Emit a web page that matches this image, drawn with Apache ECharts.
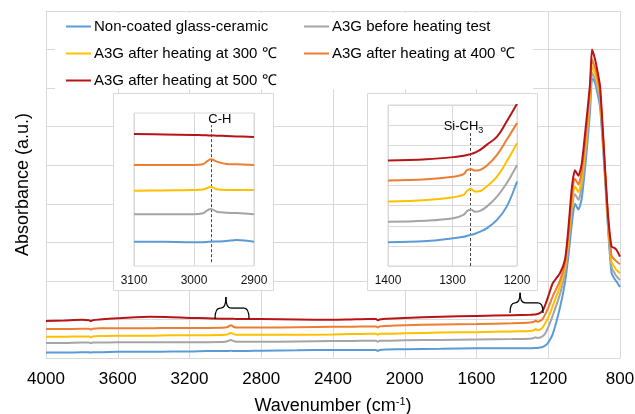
<!DOCTYPE html>
<html><head><meta charset="utf-8">
<script src="https://cdn.jsdelivr.net/npm/echarts@6/dist/echarts.min.js"></script>
<style>html,body{margin:0;padding:0;background:#fff}#c{width:635px;height:414px}</style>
</head><body><div id="c"></div>
<script>
// ---------- DATA ----------
const seriesNames = ['Non-coated glass-ceramic','A3G before heating test','A3G after heating at 300 ℃','A3G after heating at 400 ℃','A3G after heating at 500 ℃'];
const xTicks = [4000,3600,3200,2800,2400,2000,1600,1200,800];

// main spectrum (wavenumber, cm-1)
const wn = [4000,3900,3800,3760,3750,3740,3700,3600,3500,3420,3300,3200,3100,3000,2985,2970,2955,2940,2900,2800,2600,2400,2300,2200,2160,2150,2140,2100,2000,1800,1600,1400,1300,1280,1270,1260,1245,1230,1215,1200,1175,1135,1107,1090,1068,1051,1032,1013,987,967,956,945,934,911,884,866,847,830,819,800];
const nonCoated = [0.14,0.14,0.15,0.15,0.14,0.15,0.15,0.16,0.16,0.16,0.17,0.17,0.18,0.18,0.18,0.19,0.18,0.18,0.18,0.19,0.2,0.21,0.21,0.21,0.21,0.18,0.21,0.22,0.23,0.24,0.25,0.25,0.25,0.26,0.26,0.26,0.27,0.29,0.33,0.4,0.62,1.3,1.95,2.55,3.5,4.0,3.85,4.15,5.3,6.4,7.25,7.2,7.05,6.5,4.7,3.3,2.2,2.05,1.98,1.84];
const beforeHeat = [0.39,0.39,0.4,0.4,0.38,0.4,0.4,0.41,0.41,0.41,0.41,0.41,0.41,0.42,0.44,0.47,0.44,0.42,0.42,0.42,0.43,0.44,0.44,0.45,0.45,0.42,0.45,0.45,0.46,0.47,0.48,0.49,0.5,0.52,0.54,0.52,0.53,0.57,0.65,0.8,1.1,1.65,2.2,2.8,3.85,4.25,4.1,4.45,5.55,6.65,7.4,7.3,7.15,6.65,4.8,3.4,2.35,2.2,2.12,2.02];
const heat300 = [0.55,0.55,0.56,0.56,0.54,0.56,0.57,0.58,0.58,0.58,0.59,0.59,0.59,0.6,0.62,0.65,0.62,0.6,0.6,0.6,0.6,0.61,0.62,0.63,0.63,0.6,0.63,0.63,0.64,0.66,0.67,0.69,0.7,0.72,0.75,0.72,0.74,0.8,0.92,1.05,1.35,1.85,2.35,2.95,4.0,4.45,4.3,4.65,5.75,6.85,7.55,7.45,7.3,6.8,4.85,3.5,2.5,2.35,2.28,2.2];
const heat400 = [0.75,0.75,0.76,0.76,0.74,0.76,0.77,0.77,0.77,0.77,0.78,0.78,0.78,0.79,0.81,0.85,0.81,0.79,0.79,0.79,0.8,0.81,0.81,0.82,0.82,0.79,0.82,0.83,0.85,0.87,0.88,0.9,0.92,0.94,0.97,0.94,0.96,1.02,1.15,1.3,1.6,2.0,2.45,3.1,4.2,4.65,4.5,4.85,5.95,7.0,7.75,7.6,7.45,6.9,4.9,3.58,2.65,2.55,2.5,2.43];
const heat500 = [0.96,0.97,0.99,0.98,0.96,0.98,1.0,1.03,1.06,1.07,1.06,1.04,1.03,1.02,1.02,1.02,1.02,1.01,1.01,1.01,1.0,0.99,1.0,1.01,1.01,0.98,1.0,1.02,1.04,1.07,1.09,1.11,1.12,1.13,1.13,1.14,1.17,1.24,1.4,1.6,1.94,2.2,2.54,3.24,4.43,4.87,4.73,5.05,6.17,7.12,8.0,7.85,7.64,7.04,4.96,3.66,2.89,2.85,2.8,2.63];

// inset 1: C-H region
const chWn = [3100,3050,3001,2985,2979,2972,2962,2946,2929,2900];
const chNonCoated = [1.59,1.58,1.55,1.56,1.57,1.59,1.6,1.63,1.7,1.59];
const chBefore = [3.38,3.38,3.38,3.45,3.61,3.73,3.55,3.48,3.46,3.38];
const ch300 = [4.92,4.94,4.97,5.0,5.08,5.18,5.01,4.97,4.97,4.97];
const ch400 = [6.6,6.6,6.6,6.65,6.82,6.97,6.82,6.67,6.65,6.6];
const ch500 = [8.63,8.6,8.56,8.55,8.54,8.53,8.52,8.5,8.47,8.43];
const chTicks = [3100,3000,2900];
const chPeak = 2972;

// inset 2: Si-CH3 region
const siWn = [1400,1340,1299,1283,1277,1271,1265,1257,1247,1231,1216,1200];
const siNonCoated = [1.18,1.24,1.38,1.45,1.5,1.55,1.6,1.71,1.87,2.29,2.95,4.2];
const siBefore = [2.2,2.25,2.37,2.54,2.74,2.79,2.69,2.74,2.95,3.45,4.11,5.02];
const si300 = [3.2,3.28,3.42,3.53,3.75,3.81,3.7,3.73,3.95,4.44,5.19,6.1];
const si400 = [4.25,4.31,4.44,4.56,4.78,4.81,4.74,4.78,4.98,5.52,6.27,7.1];
const si500 = [5.24,5.31,5.41,5.48,5.52,5.57,5.64,5.77,6.02,6.43,7.18,8.06];
const siTicks = [1400,1300,1200];
const siPeak = 1273;

// ---------- CHART ----------
const colors = ['#5B9BD5','#A5A5A5','#FFC000','#ED7D31','#B81416'];
const FONT = "'Liberation Sans', Arial, sans-serif";
const pair = (xs, ys) => xs.map((x, i) => [x, ys[i]]);
const mainSets = [nonCoated, beforeHeat, heat300, heat400, heat500];
const chSets = [chNonCoated, chBefore, ch300, ch400, ch500];
const siSets = [siNonCoated, siBefore, si300, si400, si500];

const series = [];
mainSets.forEach((d, i) => series.push({
  name: seriesNames[i], type: 'line', xAxisIndex: 0, yAxisIndex: 0, data: pair(wn, d),
  symbol: 'none', smooth: 0.2, color: colors[i], lineStyle: {width: 2, color: colors[i]}, z: 2
}));
chSets.forEach((d, i) => series.push({
  name: seriesNames[i], type: 'line', xAxisIndex: 1, yAxisIndex: 1, data: pair(chWn, d),
  symbol: 'none', smooth: 0.4, color: colors[i], lineStyle: {width: 2, color: colors[i]}, z: 7,
  markLine: i === 0 ? {symbol: 'none', silent: true, label: {show: false},
    lineStyle: {type: [3, 2], color: '#444', width: 1},
    data: [[{coord: [chPeak, 0.25]}, {coord: [chPeak, 9.2]}]]} : undefined
}));
siSets.forEach((d, i) => series.push({
  name: seriesNames[i], type: 'line', xAxisIndex: 2, yAxisIndex: 2, data: pair(siWn, d),
  symbol: 'none', smooth: 0.4, color: colors[i], lineStyle: {width: 2, color: colors[i]}, z: 7,
  markLine: i === 0 ? {symbol: 'none', silent: true, label: {show: false},
    lineStyle: {type: [3, 2], color: '#444', width: 1},
    data: [[{coord: [siPeak, 0]}, {coord: [siPeak, 6.6]}]]} : undefined
}));

const grey = '#d9d9d9';
const insetX = (idx, lo, hi, ticks) => ({
  gridIndex: idx, type: 'value', min: lo, max: hi, interval: 100, inverse: true, z: 6,
  axisLine: {show: false}, axisTick: {show: false},
  axisLabel: {fontSize: 12, color: '#111', margin: 9, fontFamily: FONT,
    formatter: v => ticks.includes(v) ? String(v) : ''},
  splitLine: {show: true, lineStyle: {color: grey}}
});
const legendBase = {orient: 'vertical', top: 13, icon: 'rect', itemWidth: 25, itemHeight: 2, itemGap: 10, z: 8,
  textStyle: {fontSize: 15, color: '#000', fontFamily: FONT, padding: [0, 0, 0, -2], lineHeight: 17}};

const option = {
  animation: false,
  backgroundColor: '#fff',
  textStyle: {fontFamily: FONT},
  grid: [
    {left: 46, top: 11, right: 15, bottom: 56, outerBoundsMode: 'none', containLabel: false},
    {left: 134, top: 113, width: 120, height: 153, show: true, backgroundColor: '#fff', borderColor: grey, borderWidth: 1, z: 5, outerBoundsMode: 'none'},
    {left: 388, top: 105, width: 129, height: 161, show: true, backgroundColor: '#fff', borderColor: grey, borderWidth: 1, z: 5, outerBoundsMode: 'none'}
  ],
  legend: [
    Object.assign({}, legendBase, {data: [seriesNames[0], seriesNames[2], seriesNames[4]], left: 61}),
    Object.assign({}, legendBase, {data: [seriesNames[1], seriesNames[3]], left: 299})
  ],
  xAxis: [
    {gridIndex: 0, type: 'value', min: 800, max: 4000, interval: 400, inverse: true,
     axisLine: {show: true, lineStyle: {color: grey}}, axisTick: {show: false},
     axisLabel: {fontSize: 17, color: '#000', margin: 13, fontFamily: FONT,
       formatter: v => xTicks.includes(v) ? String(v) : ''},
     splitLine: {show: true, lineStyle: {color: grey}},
     name: '{a|Wavenumber (cm}{s|-1}{a|)}', nameLocation: 'middle', nameGap: 38,
     nameTextStyle: {rich: {
       a: {fontSize: 18, color: '#000', fontFamily: FONT, lineHeight: 20},
       s: {fontSize: 11, color: '#000', fontFamily: FONT, verticalAlign: 'top', lineHeight: 20}
     }}},
    insetX(1, 2900, 3100, chTicks),
    insetX(2, 1200, 1400, siTicks)
  ],
  yAxis: [
    {gridIndex: 0, type: 'value', min: 0, max: 9, interval: 1,
     axisLine: {show: true, lineStyle: {color: grey}}, axisTick: {show: false}, axisLabel: {show: false},
     splitLine: {show: true, lineStyle: {color: grey}},
     name: 'Absorbance (a.u.)', nameLocation: 'middle', nameGap: 14,
     nameTextStyle: {fontSize: 18, color: '#000', fontFamily: FONT}},
    {gridIndex: 1, type: 'value', min: 0, max: 10, interval: 1, z: 6,
     axisLine: {show: false}, axisTick: {show: false}, axisLabel: {show: false}, splitLine: {show: false}},
    {gridIndex: 2, type: 'value', min: 0, max: 8, interval: 1, z: 6,
     axisLine: {show: false}, axisTick: {show: false}, axisLabel: {show: false},
     splitLine: {show: true, lineStyle: {color: grey}}}
  ],
  series: series
};

const chart = echarts.init(document.getElementById('c'), null, {renderer: 'canvas'});
chart.setOption(option);

// ---------- annotations (positions from data coordinates) ----------
const pt = (g, d) => chart.convertToPixel({gridIndex: g}, d);
const gfx = [];
gfx.push({type: 'rect', z: 3, silent: true, shape: {x: 55, y: 13, width: 478, height: 76}, style: {fill: '#fff'}});
gfx.push({type: 'rect', z: 3, silent: true, shape: {x: 113.5, y: 93.5, width: 160, height: 197}, style: {fill: '#fff', stroke: grey, lineWidth: 1}});
gfx.push({type: 'rect', z: 3, silent: true, shape: {x: 367.5, y: 93.5, width: 170, height: 197}, style: {fill: '#fff', stroke: grey, lineWidth: 1}});

function brace(xl, xr, xt, yb, yt) {
  const L = pt(0, [xl, yb]), R = pt(0, [xr, yb]), T = pt(0, [xt, yt]);
  const yB = L[1], yT = T[1], yM = (yB + yT) / 2, r = 5;
  const st = {stroke: '#000', lineWidth: 1.3, fill: null};
  gfx.push({type: 'bezierCurve', z: 9, silent: true, shape: {x1: L[0], y1: yB, cpx1: L[0], cpy1: yM, x2: L[0] + r, y2: yM}, style: st});
  gfx.push({type: 'line', z: 9, silent: true, shape: {x1: L[0] + r, y1: yM, x2: T[0] - r, y2: yM}, style: st});
  gfx.push({type: 'bezierCurve', z: 9, silent: true, shape: {x1: T[0] - r, y1: yM, cpx1: T[0], cpy1: yM, x2: T[0], y2: yT}, style: st});
  gfx.push({type: 'bezierCurve', z: 9, silent: true, shape: {x1: T[0], y1: yT, cpx1: T[0], cpy1: yM, x2: T[0] + r, y2: yM}, style: st});
  gfx.push({type: 'line', z: 9, silent: true, shape: {x1: T[0] + r, y1: yM, x2: R[0] - r, y2: yM}, style: st});
  gfx.push({type: 'bezierCurve', z: 9, silent: true, shape: {x1: R[0] - r, y1: yM, cpx1: R[0], cpy1: yM, x2: R[0], y2: yB}, style: st});
}
brace(3058, 2868, 2997, 1.01, 1.58);
brace(1413, 1229, 1357, 1.17, 1.69);

const chLab = pt(1, [2957, 9.55]);
gfx.push({type: 'text', z: 9, silent: true, x: chLab[0], y: chLab[1],
  style: {text: 'C-H', fontSize: 13, fontFamily: FONT, fill: '#000', align: 'center', verticalAlign: 'middle', textAlign: 'center', textVerticalAlign: 'middle'}});
const siLab = pt(2, [1283, 6.95]);
gfx.push({type: 'text', z: 9, silent: true, x: siLab[0], y: siLab[1],
  style: {text: '{a|Si-CH}{b|3}', align: 'center', verticalAlign: 'middle', textAlign: 'center', textVerticalAlign: 'middle',
    rich: {a: {fontSize: 13, fontFamily: FONT, fill: '#000', color: '#000', lineHeight: 18},
           b: {fontSize: 9, fontFamily: FONT, fill: '#000', color: '#000', verticalAlign: 'bottom', lineHeight: 18}}}});

chart.setOption({graphic: {elements: gfx}});
</script>
</body></html>
